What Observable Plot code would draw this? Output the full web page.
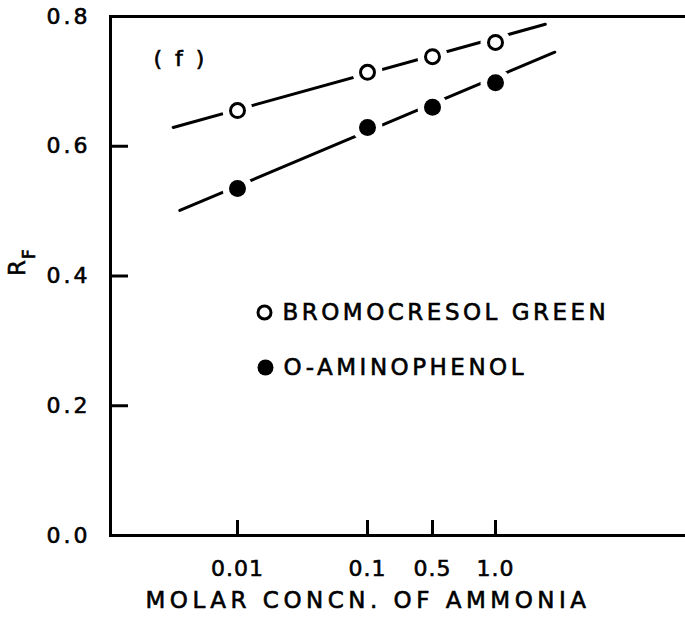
<!DOCTYPE html>
<html><head><meta charset="utf-8">
<script src="https://cdn.jsdelivr.net/npm/d3@7"></script>
<script src="https://cdn.jsdelivr.net/npm/@observablehq/plot@0.6"></script>
<style>
  body { margin: 0; background: #fff; overflow: hidden; }
  svg { font-family: "DejaVu Sans", sans-serif; }
  svg text { stroke: black; stroke-width: 0.6px; }
  text[aria-label="legend text"] { letter-spacing: 3.5px; }
  text[aria-label="x title"] { letter-spacing: 4.5px; }
  g[aria-label="y-axis tick label"] text { letter-spacing: 3px; }
  g[aria-label="x-axis tick label"] text { letter-spacing: 1px; }
  text[aria-label="panel label"] { letter-spacing: 3px; }
</style>
</head><body><div id="chart"></div>
<script>
// Data
const concentrations = [0.01, 0.1, 0.5, 1.0];
const bromocresolGreen = [0.655, 0.714, 0.738, 0.760];
const oAminophenol = [0.535, 0.629, 0.660, 0.698];
const seriesNames = ["BROMOCRESOL GREEN", "O-AMINOPHENOL"];
// fitted straight lines (end points)
const bromoFitX = [0.0032, 1.73];
const bromoFitY = [0.629, 0.788];
const aminoFitX = [0.0036, 1.92];
const aminoFitY = [0.501, 0.745];
// ticks
const xTicks = [0.01, 0.1, 0.5, 1.0];
const xTickLabels = ["0.01", "0.1", "0.5", "1.0"];
const yTicks = [0, 0.2, 0.4, 0.6, 0.8];
const yTickLabels = ["0.0", "0.2", "0.4", "0.6", "0.8"];
const yInnerTicks = [0.2, 0.4, 0.6];
const xTitle = "MOLAR CONCN. OF AMMONIA";
const panelLabel = "( f )";

const points = [
  ...concentrations.map((c, i) => ({series: seriesNames[0], x: c, y: bromocresolGreen[i]})),
  ...concentrations.map((c, i) => ({series: seriesNames[1], x: c, y: oAminophenol[i]}))
];
const fits = [
  ...bromoFitX.map((x, i) => ({series: seriesNames[0], x, y: bromoFitY[i]})),
  ...aminoFitX.map((x, i) => ({series: seriesNames[1], x, y: aminoFitY[i]}))
];

const chart = Plot.plot({
  width: 685,
  height: 617,
  marginLeft: 110,
  marginRight: 0,
  marginTop: 16,
  marginBottom: 82,
  x: {type: "log", domain: xTicks, range: [237, 367, 432, 495]},
  y: {domain: [0, 0.8]},
  marks: [
    Plot.ruleY([0, 0.8], {strokeWidth: 3}),
    Plot.frame({anchor: "left", strokeWidth: 3}),
    Plot.axisY({ticks: yInnerTicks, tickSize: -18, tickFormat: () => "", strokeWidth: 3, label: null}),
    Plot.axisY({ticks: yTicks, tickSize: 0, tickPadding: 20, fontSize: 22,
      tickFormat: d => yTickLabels[yTicks.indexOf(d)], label: null}),
    Plot.axisX({ticks: xTicks, tickSize: -15, tickFormat: () => "", strokeWidth: 3, label: null}),
    Plot.axisX({ticks: xTicks, tickSize: 0, tickPadding: 25, fontSize: 22,
      tickFormat: d => xTickLabels[xTicks.indexOf(d)], label: null}),
    Plot.text([xTitle], {frameAnchor: "bottom", dx: -30, dy: 72, fontSize: 23, text: d => d, ariaLabel: () => "x title"}),
    Plot.text(["R"], {frameAnchor: "left", dx: -93, dy: 0, rotate: -90, fontSize: 23, text: d => d}),
    Plot.text(["F"], {frameAnchor: "left", dx: -81, dy: -17, rotate: -90, fontSize: 17, text: d => d}),
    Plot.text([panelLabel], {frameAnchor: "top-left", dx: 43, dy: 34, fontSize: 22, textAnchor: "start", text: d => d, ariaLabel: () => "panel label"}),
    Plot.line(fits, {x: "x", y: "y", z: "series", stroke: "black", strokeWidth: 3}),
    Plot.dot(points, {x: "x", y: "y", r: 15, fill: "white", stroke: null}),
    Plot.dot(points.filter(d => d.series === seriesNames[0]), {x: "x", y: "y", r: 7, fill: "white", stroke: "black", strokeWidth: 3}),
    Plot.dot(points.filter(d => d.series === seriesNames[1]), {x: "x", y: "y", r: 8.5, fill: "black", stroke: null}),
    // legend
    Plot.dot([seriesNames[0]], {frameAnchor: "top-left", dx: 154, dy: 296, r: 6.5, fill: "white", stroke: "black", strokeWidth: 3}),
    Plot.dot([seriesNames[1]], {frameAnchor: "top-left", dx: 155, dy: 351, r: 8, fill: "black"}),
    Plot.text([seriesNames[0]], {frameAnchor: "top-left", dx: 172, dy: 296, fontSize: 23, textAnchor: "start", lineAnchor: "middle", text: d => d, ariaLabel: () => "legend text"}),
    Plot.text([seriesNames[1]], {frameAnchor: "top-left", dx: 173, dy: 351, fontSize: 23, textAnchor: "start", lineAnchor: "middle", text: d => d, ariaLabel: () => "legend text"})
  ]
});
document.getElementById("chart").appendChild(chart);
</script>
</body></html>
